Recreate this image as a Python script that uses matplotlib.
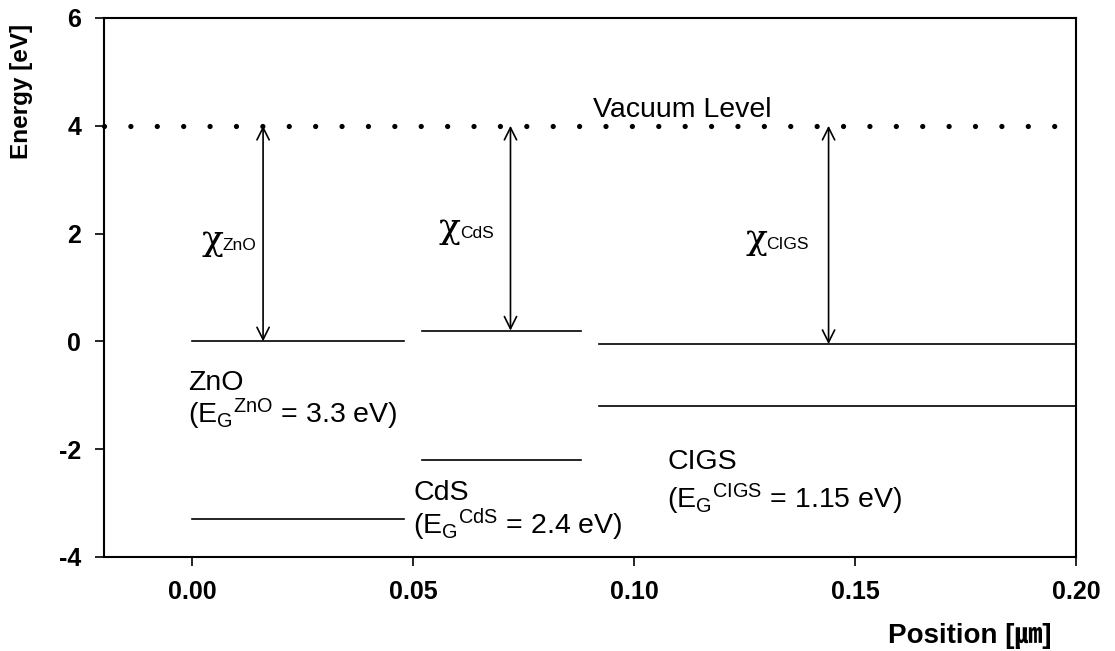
import numpy as np
import matplotlib
matplotlib.use("Agg")
import matplotlib.pyplot as plt

plt.rcParams['font.family'] = ['Liberation Sans', 'Noto Sans CJK KR', 'DejaVu Sans']
plt.rcParams['mathtext.fontset'] = 'custom'
plt.rcParams['mathtext.rm'] = 'Liberation Sans'
plt.rcParams['mathtext.it'] = 'Liberation Sans'

# band data (eV) for each layer
layers = ["ZnO", "CdS", "CIGS"]
x_start = [0.0, 0.052, 0.092]
x_end = [0.048, 0.088, 0.20]
cond_band = [0.0, 0.2, -0.05]
band_gap = [3.3, 2.4, 1.15]
vacuum_level = 4.0
arrow_x = [0.016, 0.072, 0.144]

x_ticks = [0.00, 0.05, 0.10, 0.15, 0.20]
y_ticks = [-4, -2, 0, 2, 4, 6]

# label positions (x, y) in data coords
chi_pos = [(0.002, 1.69), (0.0558, 1.92), (0.1252, 1.72)]
name_pos = [(-0.001, -0.9), (0.050, -2.95), (0.1075, -2.36)]
gap_pos = [(-0.001, -1.52), (0.050, -3.57), (0.1075, -3.1)]

fig = plt.figure(figsize=(11.15, 6.51), dpi=100)
ax = fig.add_axes([0.0933, 0.1444, 0.8717, 0.828])

val_band = [c - g for c, g in zip(cond_band, band_gap)]
for i in range(len(layers)):
    ax.plot([x_start[i], x_end[i]], [cond_band[i], cond_band[i]], color='black', lw=1.2)
    ax.plot([x_start[i], x_end[i]], [val_band[i], val_band[i]], color='black', lw=1.2)
    ax.annotate('', xy=(arrow_x[i], vacuum_level), xytext=(arrow_x[i], cond_band[i]),
                arrowprops=dict(arrowstyle='<->', color='black', lw=1.2,
                                mutation_scale=22, shrinkA=0, shrinkB=0))

# vacuum level dotted line
ax.plot([-0.02, 0.20], [vacuum_level, vacuum_level], color='black', lw=3.8,
        linestyle=(0, (0.001, 5.0)), dash_capstyle='round', clip_on=False)
ax.text(0.0907, 4.16, 'Vacuum Level', fontsize=20.5, va='baseline', ha='left')

for i, name in enumerate(layers):
    cx, cy = chi_pos[i]
    ax.text(cx, cy, 'χ', fontsize=26, family='DejaVu Serif', va='baseline', ha='left')
    ax.annotate(name, xy=(cx, cy), xytext=(15, 0), textcoords='offset points',
                fontsize=12.5, va='baseline', ha='left')
    nx, ny = name_pos[i]
    ax.text(nx, ny, name, fontsize=20.5, va='baseline', ha='left')
    gx, gy = gap_pos[i]
    ax.text(gx, gy, r'(E$_{\mathrm{G}}{}^{\mathrm{%s}}$ = %s eV)' % (name, band_gap[i]),
            fontsize=20.5, va='baseline', ha='left')

ax.set_xlim(-0.02, 0.20)
ax.set_ylim(-4, 6)
ax.set_xticks(x_ticks)
ax.set_xticklabels(['%.2f' % t for t in x_ticks], fontsize=18, fontweight='bold')
ax.set_yticks(y_ticks)
ax.set_yticklabels([str(t) for t in y_ticks], fontsize=18, fontweight='bold')
ax.tick_params(direction='out', length=6.5, width=1.2, top=False, right=False, pad=10)
for sp in ax.spines.values():
    sp.set_linewidth(1.5)

ax.set_ylabel('Energy [eV]', fontsize=17.5, fontweight='bold')
ax.yaxis.set_label_coords(-0.073, 0.863)
ax.set_xlabel('Position [㎛]', fontsize=20, fontweight='bold', ha='right', va='center')
ax.xaxis.set_label_coords(0.975, -0.147)

fig.savefig('out.png', dpi=100)
